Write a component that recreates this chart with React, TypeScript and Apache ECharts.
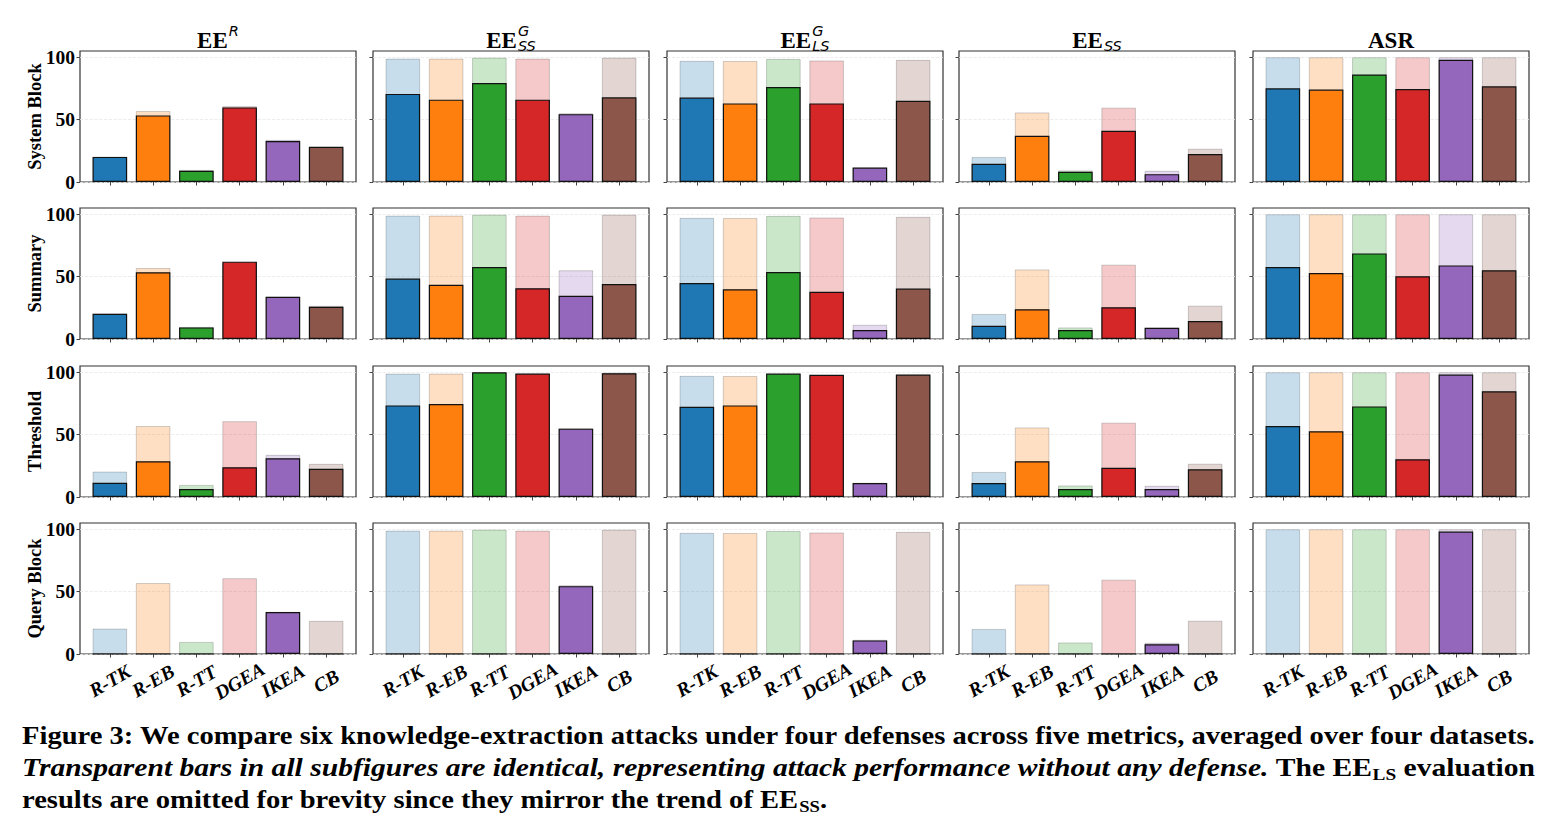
import React, { useEffect, useRef } from 'react';
import * as echarts from 'echarts';

// ---- categories & labels ----
const ATTACKS = ['R-TK', 'R-EB', 'R-TT', 'DGEA', 'IKEA', 'CB'];
const DEFENSES = ['System Block', 'Summary', 'Threshold', 'Query Block'];
const COLORS = ['#1f77b4', '#ff7f0e', '#2ca02c', '#d62728', '#9467bd', '#8c564b'];
const Y_TICKS = [0, 50, 100];

// ---- attack performance without any defense (transparent bars) ----
const NO_DEF_EER = [20.4, 56.9, 9.7, 60.8, 33.8, 26.6];
const NO_DEF_EEG_SS = [98.9, 98.9, 99.7, 98.9, 55.1, 99.7];
const NO_DEF_EEG_LS = [97.1, 97.0, 98.7, 97.4, 11.4, 97.9];
const NO_DEF_EE_SS = [20.1, 55.8, 9.3, 59.6, 9.0, 26.7];
const NO_DEF_ASR = [100, 100, 100, 100, 100, 100];

// ---- attack performance under each defense (solid bars) ----
const EER_SYSTEM_BLOCK = [20.1, 53.4, 9.0, 59.8, 32.8, 28.3];
const EER_SUMMARY = [20.2, 53.5, 9.3, 62.0, 33.8, 25.8];
const EER_THRESHOLD = [11.4, 28.7, 6.4, 23.9, 31.1, 22.6];
const EER_QUERY_BLOCK = [0, 0, 0, 0, 33.6, 0];

const EEG_SS_SYSTEM_BLOCK = [70.6, 66.0, 79.3, 66.0, 54.4, 67.9];
const EEG_SS_SUMMARY = [48.4, 43.4, 57.7, 40.7, 34.6, 44.1];
const EEG_SS_THRESHOLD = [73.4, 74.5, 100, 98.9, 54.8, 99.2];
const EEG_SS_QUERY_BLOCK = [0, 0, 0, 0, 54.4, 0];

const EEG_LS_SYSTEM_BLOCK = [67.7, 63.0, 76.2, 63.0, 11.6, 65.1];
const EEG_LS_SUMMARY = [44.9, 39.9, 53.7, 37.8, 7.2, 40.4];
const EEG_LS_THRESHOLD = [72.3, 73.4, 98.9, 97.9, 11.2, 98.1];
const EEG_LS_QUERY_BLOCK = [0, 0, 0, 0, 10.9, 0];

const EE_SS_SYSTEM_BLOCK = [14.6, 37.0, 8.2, 41.0, 6.3, 22.5];
const EE_SS_SUMMARY = [10.6, 23.9, 7.2, 25.5, 9.0, 14.4];
const EE_SS_THRESHOLD = [11.2, 28.7, 6.4, 23.4, 6.4, 22.3];
const EE_SS_QUERY_BLOCK = [0, 0, 0, 0, 7.8, 0];

const ASR_SYSTEM_BLOCK = [75.1, 74.1, 86.2, 74.6, 97.9, 76.7];
const ASR_SUMMARY = [57.7, 52.9, 68.6, 50.3, 59.0, 55.1];
const ASR_THRESHOLD = [56.9, 52.7, 72.6, 30.3, 98.1, 84.8];
const ASR_QUERY_BLOCK = [0, 0, 0, 0, 98.1, 0];

type Metric = { main: string; sup: string; sub: string; base: number[]; rows: number[][] };

const METRICS: Metric[] = [
  { main: 'EE', sup: 'R', sub: '', base: NO_DEF_EER, rows: [EER_SYSTEM_BLOCK, EER_SUMMARY, EER_THRESHOLD, EER_QUERY_BLOCK] },
  { main: 'EE', sup: 'G', sub: 'SS', base: NO_DEF_EEG_SS, rows: [EEG_SS_SYSTEM_BLOCK, EEG_SS_SUMMARY, EEG_SS_THRESHOLD, EEG_SS_QUERY_BLOCK] },
  { main: 'EE', sup: 'G', sub: 'LS', base: NO_DEF_EEG_LS, rows: [EEG_LS_SYSTEM_BLOCK, EEG_LS_SUMMARY, EEG_LS_THRESHOLD, EEG_LS_QUERY_BLOCK] },
  { main: 'EE', sup: '', sub: 'SS', base: NO_DEF_EE_SS, rows: [EE_SS_SYSTEM_BLOCK, EE_SS_SUMMARY, EE_SS_THRESHOLD, EE_SS_QUERY_BLOCK] },
  { main: 'ASR', sup: '', sub: '', base: NO_DEF_ASR, rows: [ASR_SYSTEM_BLOCK, ASR_SUMMARY, ASR_THRESHOLD, ASR_QUERY_BLOCK] },
];

// ---- caption ----
const CAPTION_1 = 'Figure 3: We compare six knowledge-extraction attacks under four defenses across five metrics, averaged over four datasets.';
const CAPTION_2_ITALIC = 'Transparent bars in all subfigures are identical, representing attack performance without any defense.';
const CAPTION_2_TAIL = [' The EE', 'LS', ' evaluation'];
const CAPTION_3 = ['results are omitted for brevity since they mirror the trend of EE', 'SS', '.'];

// ---- layout ----
const WIDTH = 1556;
const HEIGHT = 832;
const PANEL_LEFT = [80, 373, 667, 959, 1253];
const PANEL_TOP = [51, 208, 366, 523];
const PANEL_W = 276;
const PANEL_H = 131;
const X_MIN = -0.69;
const X_MAX = 5.69;
const Y_MAX = 105;
const BAR_W = (0.8 * PANEL_W) / (X_MAX - X_MIN);
const SERIF = '"Liberation Serif", "Times New Roman", serif';
const SANS = '"DejaVu Sans", sans-serif';

const TITLE_SIZE = 23;
const SCRIPT_SIZE = 14.5;
const CAP_SIZE = 24.5;
const CAP_SUB_SIZE = 16;
const CAP_LEFT = 22;

function withAlpha(hex: string, a: number) {
  const n = parseInt(hex.slice(1), 16);
  return `rgba(${(n >> 16) & 255},${(n >> 8) & 255},${n & 255},${a})`;
}

let measureCtx: CanvasRenderingContext2D | null = null;
function measure(text: string, font: string) {
  if (!measureCtx) measureCtx = document.createElement('canvas').getContext('2d');
  measureCtx!.font = font;
  return measureCtx!.measureText(text).width;
}

function titleGraphics(cx: number, m: Metric): any[] {
  const mainFont = `bold ${TITLE_SIZE}px ${SERIF}`;
  const scriptFont = `italic ${SCRIPT_SIZE}px ${SANS}`;
  const wMain = measure(m.main, mainFont);
  const wScript = Math.max(m.sup ? measure(m.sup, scriptFont) : 0, m.sub ? measure(m.sub, scriptFont) : 0);
  const gap = wScript ? 1 : 0;
  const x0 = cx - (wMain + gap + wScript) / 2;
  const els: any[] = [
    {
      type: 'text', x: x0, y: 40,
      style: { text: m.main, fontFamily: SERIF, fontWeight: 'bold', fontSize: TITLE_SIZE, fill: '#000', align: 'left', verticalAlign: 'middle' },
    },
  ];
  if (m.sup) {
    els.push({
      type: 'text', x: x0 + wMain + gap, y: 30.5,
      style: { text: m.sup, fontFamily: SANS, fontStyle: 'italic', fontSize: SCRIPT_SIZE, fill: '#000', align: 'left', verticalAlign: 'middle' },
    });
  }
  if (m.sub) {
    els.push({
      type: 'text', x: x0 + wMain + gap, y: 45.5,
      style: { text: m.sub, fontFamily: SANS, fontStyle: 'italic', fontSize: SCRIPT_SIZE, fill: '#000', align: 'left', verticalAlign: 'middle' },
    });
  }
  return els;
}

function captionGraphics(): any[] {
  const bold = `bold ${CAP_SIZE}px ${SERIF}`;
  const boldItalic = `italic bold ${CAP_SIZE}px ${SERIF}`;
  const subFont = `bold ${CAP_SUB_SIZE}px ${SERIF}`;
  const rich = {
    b: { fontFamily: SERIF, fontWeight: 'bold', fontSize: CAP_SIZE, lineHeight: 30, verticalAlign: 'middle', color: '#000' },
    i: { fontFamily: SERIF, fontWeight: 'bold', fontStyle: 'italic', fontSize: CAP_SIZE, lineHeight: 30, verticalAlign: 'middle', color: '#000' },
    s: { fontFamily: SERIF, fontWeight: 'bold', fontSize: CAP_SUB_SIZE, lineHeight: 16, verticalAlign: 'bottom', color: '#000' },
  };
  const w1 = measure(CAPTION_1, bold);
  const w2 = measure(CAPTION_2_ITALIC, boldItalic) + measure(CAPTION_2_TAIL[0], bold) + measure(CAPTION_2_TAIL[1], subFont) + measure(CAPTION_2_TAIL[2], bold);
  const s1 = (1538 - CAP_LEFT) / w1;
  const s2 = (1535 - CAP_LEFT) / w2;
  const common = { align: 'left', verticalAlign: 'middle', rich };
  return [
    { type: 'text', x: CAP_LEFT, y: 736, scaleX: s1, style: { ...common, text: `{b|${CAPTION_1}}` } },
    {
      type: 'text', x: CAP_LEFT, y: 768, scaleX: s2,
      style: { ...common, text: `{i|${CAPTION_2_ITALIC}}{b|${CAPTION_2_TAIL[0]}}{s|${CAPTION_2_TAIL[1]}}{b|${CAPTION_2_TAIL[2]}}` },
    },
    {
      type: 'text', x: CAP_LEFT, y: 800, scaleX: s1,
      style: { ...common, text: `{b|${CAPTION_3[0]}}{s|${CAPTION_3[1]}}{b|${CAPTION_3[2]}}` },
    },
  ];
}

function buildOption(): any {
  const grid: any[] = [];
  const xAxis: any[] = [];
  const yAxis: any[] = [];
  const series: any[] = [];
  const graphic: any[] = [];
  const tickIdx = ATTACKS.map((_, i) => i);

  DEFENSES.forEach((defense, r) => {
    METRICS.forEach((m, c) => {
      const idx = r * METRICS.length + c;
      grid.push({
        left: PANEL_LEFT[c], top: PANEL_TOP[r], width: PANEL_W, height: PANEL_H,
        show: true, borderColor: '#333', borderWidth: 1.2, backgroundColor: 'transparent',
      });
      xAxis.push({
        type: 'value', gridIndex: idx, min: X_MIN, max: X_MAX, position: 'bottom',
        axisLine: { show: false, onZero: false },
        splitLine: { show: false },
        axisTick: { show: true, customValues: tickIdx, length: 3.5, lineStyle: { color: '#444', width: 1 } },
        axisLabel: {
          show: r === DEFENSES.length - 1,
          customValues: tickIdx,
          formatter: (v: number) => ATTACKS[Math.round(v)] ?? '',
          rotate: 30, align: 'center', verticalAlign: 'middle', margin: 27,
          fontFamily: SERIF, fontWeight: 'bold', fontStyle: 'italic', fontSize: 19.5, color: '#000',
        },
      });
      yAxis.push({
        type: 'value', gridIndex: idx, min: 0, max: Y_MAX, interval: 50, position: 'left',
        axisLine: { show: false, onZero: false },
        splitLine: { show: true, lineStyle: { color: '#e9e9e9', width: 0.8, type: 'dashed' } },
        axisTick: { show: true, customValues: Y_TICKS, length: 3.5, lineStyle: { color: '#444', width: 1 } },
        axisLabel: {
          show: c === 0, customValues: Y_TICKS, margin: 5,
          fontFamily: SERIF, fontWeight: 'bold', fontSize: 19.5, color: '#000',
        },
      });
      // no-defense bars behind
      series.push({
        type: 'bar', xAxisIndex: idx, yAxisIndex: idx, barWidth: BAR_W, barGap: '-100%',
        silent: true, emphasis: { disabled: true },
        data: m.base.map((v, i) => ({
          value: [i, v],
          itemStyle: { color: withAlpha(COLORS[i], 0.25), borderColor: 'rgba(0,0,0,0.18)', borderWidth: 1 },
        })),
      });
      // with-defense bars in front
      series.push({
        type: 'bar', xAxisIndex: idx, yAxisIndex: idx, barWidth: BAR_W, barGap: '-100%',
        silent: true, emphasis: { disabled: true },
        data: m.rows[r].map((v, i) => ({
          value: [i, v],
          itemStyle: { color: COLORS[i], borderColor: '#111', borderWidth: 1.2 },
        })),
      });
    });

    graphic.push({
      type: 'text', x: 35, y: PANEL_TOP[r] + PANEL_H / 2, rotation: Math.PI / 2,
      style: { text: defense, fontFamily: SERIF, fontWeight: 'bold', fontSize: 18.5, fill: '#000', align: 'center', verticalAlign: 'middle' },
    });
  });

  METRICS.forEach((m, c) => {
    graphic.push(...titleGraphics(PANEL_LEFT[c] + PANEL_W / 2, m));
  });
  graphic.push(...captionGraphics());

  return {
    animation: false,
    backgroundColor: '#fff',
    textStyle: { fontFamily: SERIF },
    grid, xAxis, yAxis, series, graphic,
  };
}

export default function App() {
  const ref = useRef<HTMLDivElement>(null);
  useEffect(() => {
    if (!ref.current) return;
    const chart = echarts.init(ref.current, undefined, { renderer: 'svg' });
    chart.setOption(buildOption());
    return () => chart.dispose();
  }, []);
  return (
    <div
      ref={ref}
      style={{ position: 'fixed', left: 0, top: 0, width: WIDTH, height: HEIGHT, background: '#fff' }}
    />
  );
}
